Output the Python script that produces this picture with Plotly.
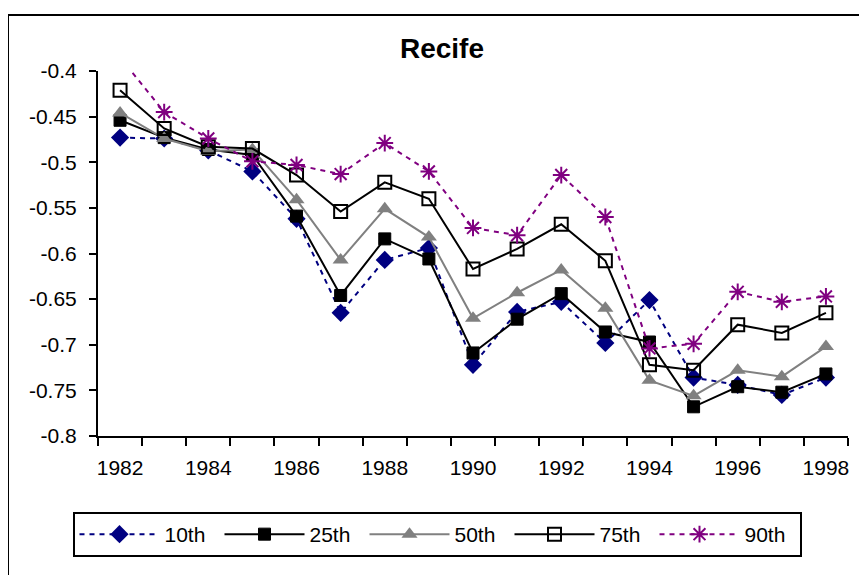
import plotly.graph_objects as go

years = list(range(1982, 1999))
p10 = [-0.473, -0.474, -0.487, -0.510, -0.562, -0.665, -0.607, -0.594, -0.722, -0.664, -0.653, -0.698, -0.651, -0.736, -0.744, -0.755, -0.736]
p25 = [-0.454, -0.473, -0.486, -0.492, -0.559, -0.646, -0.584, -0.606, -0.709, -0.672, -0.644, -0.686, -0.697, -0.768, -0.746, -0.752, -0.732]
p50 = [-0.446, -0.474, -0.488, -0.486, -0.541, -0.607, -0.551, -0.582, -0.671, -0.643, -0.618, -0.660, -0.739, -0.756, -0.728, -0.735, -0.702]
p75 = [-0.421, -0.463, -0.483, -0.485, -0.514, -0.554, -0.522, -0.540, -0.617, -0.595, -0.568, -0.608, -0.722, -0.728, -0.678, -0.687, -0.665]
p90 = [-0.385, -0.445, -0.474, -0.499, -0.503, -0.513, -0.479, -0.510, -0.572, -0.580, -0.514, -0.560, -0.704, -0.699, -0.642, -0.653, -0.647]

series_names = ["10th", "25th", "50th", "75th", "90th"]
x_tick_vals = [1982, 1984, 1986, 1988, 1990, 1992, 1994, 1996, 1998]
x_tick_text = ["1982", "1984", "1986", "1988", "1990", "1992", "1994", "1996", "1998"]
y_tick_vals = [-0.8, -0.75, -0.7, -0.65, -0.6, -0.55, -0.5, -0.45, -0.4]
y_tick_text = ["-0.8", "-0.75", "-0.7", "-0.65", "-0.6", "-0.55", "-0.5", "-0.45", "-0.4"]

FONT = "Liberation Sans, Arial, sans-serif"

# page body has an 8px margin; figure coordinates are window coordinates minus 8
W, H = 859, 567
PL, PR, PT, PB = 90, 840, 63, 428  # plot area in figure px
PW, PH = PR - PL, PB - PT

fig = go.Figure()

styles = [
    dict(line=dict(color="#000080", width=2, dash="5px,5px"),
         marker=dict(symbol="diamond", size=14, color="#000080")),
    dict(line=dict(color="black", width=2),
         marker=dict(symbol="square", size=12, color="black",
                     line=dict(color="black", width=1))),
    dict(line=dict(color="#808080", width=2),
         marker=dict(symbol="triangle-up", size=14, color="#808080")),
    dict(line=dict(color="black", width=2),
         marker=dict(symbol="square-open", size=13, color="black",
                     line=dict(width=2))),
    dict(line=dict(color="#800080", width=2, dash="5px,5px"),
         marker=dict(symbol="asterisk-open", size=14, color="#800080",
                     line=dict(color="#800080", width=2))),
]

for name, vals, st in zip(series_names, [p10, p25, p50, p75, p90], styles):
    fig.add_trace(go.Scatter(x=years, y=vals, name=name, mode="lines+markers",
                             line=st["line"], marker=st["marker"]))

# outer chart border
fig.add_shape(type="rect", xref="paper", yref="paper",
              x0=(0 - PL) / PW, x1=(853 - PL) / PW,
              y0=(PB - 600) / PH, y1=(PB - 7) / PH,
              line=dict(color="black", width=2), layer="below")

fig.update_layout(
    width=W, height=H,
    margin=dict(l=PL, r=W - PR, t=PT, b=H - PB, autoexpand=False),
    paper_bgcolor="white", plot_bgcolor="white",
    font=dict(family=FONT, size=21, color="black"),
    title=dict(text="<b>Recife</b>", x=434 / W, xanchor="center",
               y=1 - 40 / H, yanchor="middle", font=dict(size=28, family=FONT)),
    showlegend=True,
    legend=dict(orientation="h", x=(429 - PL) / PW, xanchor="center",
                y=(PB - 504) / PH, yanchor="top",
                bordercolor="black", borderwidth=2,
                font=dict(size=21, family=FONT),
                itemwidth=80, entrywidth=50, tracegroupgap=0),
    xaxis=dict(range=[1981.5, 1998.5], tickmode="array", tickvals=x_tick_vals,
               ticktext=x_tick_text, ticks="", showgrid=False, zeroline=False,
               showline=True, linecolor="black", linewidth=2,
               ticklabelstandoff=12,
               minor=dict(tickmode="array",
                          tickvals=[y + 0.5 for y in range(1981, 1999)],
                          ticks="outside", ticklen=8, tickwidth=2,
                          tickcolor="black", showgrid=False)),
    yaxis=dict(range=[-0.8, -0.4], tickmode="array", tickvals=y_tick_vals,
               ticktext=y_tick_text, ticks="outside", ticklen=7, tickwidth=2,
               tickcolor="black", showgrid=False, zeroline=False,
               showline=True, linecolor="black", linewidth=2,
               ticklabelstandoff=8),
)

fig.write_html("out.html")
